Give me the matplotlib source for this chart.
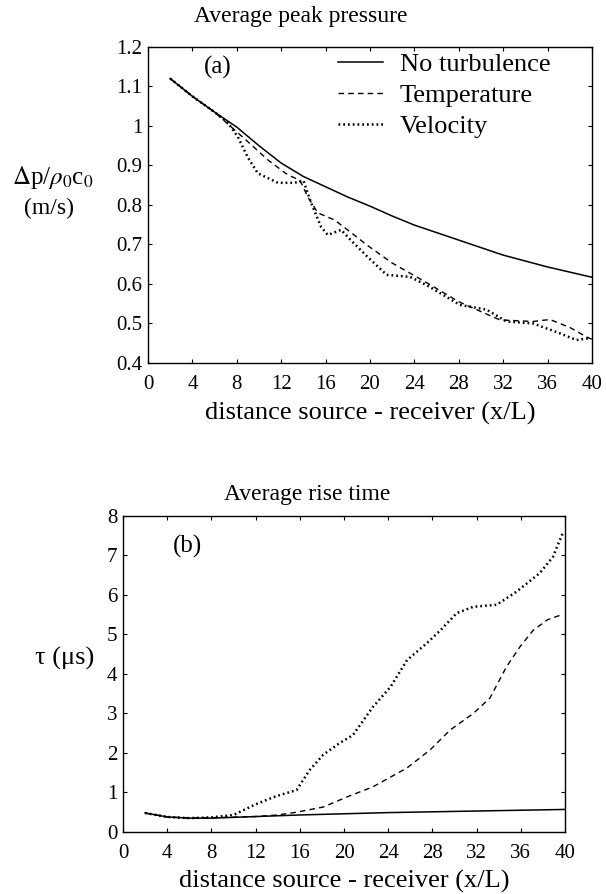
import matplotlib
matplotlib.use("Agg")
import matplotlib.pyplot as plt

plt.rcParams["font.family"] = ["Liberation Serif", "DejaVu Serif"]
plt.rcParams["mathtext.fontset"] = "stix"

# (a) average peak pressure
x_none_a = [2, 4, 6, 8, 10, 12, 14, 16, 18, 20, 22, 24, 26, 28, 30, 32, 34, 36, 38, 40]
p_none = [1.12, 1.075, 1.035, 0.997, 0.95, 0.906, 0.872, 0.846, 0.82, 0.797, 0.772,
          0.749, 0.73, 0.711, 0.692, 0.673, 0.658, 0.643, 0.63, 0.617]
x_temp_a = [2, 4, 6, 8, 9, 10.8, 12.6, 13.5, 13.8, 14.4, 15.3, 16.8, 18.3, 19.8, 22, 25,
            28, 30, 31.7, 34.7, 36.2, 38, 39.5, 40]
p_temp = [1.12, 1.075, 1.035, 0.985, 0.96, 0.914, 0.876, 0.865, 0.856, 0.82, 0.78, 0.762,
          0.73, 0.697, 0.653, 0.605, 0.555, 0.53, 0.509, 0.505, 0.51, 0.49, 0.466, 0.46]
x_vel_a = [2, 4, 6, 7.2, 8.1, 9, 9.9, 11.7, 13.2, 14, 14.7, 15.6, 16.2, 17.4, 18.3, 19.8,
           21.5, 23.6, 25.1, 28.1, 30.5, 32.3, 34.7, 37.1, 38.6, 39.8]
p_vel = [1.12, 1.075, 1.035, 1.008, 0.972, 0.92, 0.88, 0.856, 0.856, 0.862, 0.805, 0.744,
         0.724, 0.737, 0.71, 0.668, 0.623, 0.618, 0.597, 0.547, 0.535, 0.505, 0.5, 0.475,
         0.458, 0.463]

# (b) average rise time
x_none_b = [2, 4, 6, 8, 10, 12, 14, 16, 20, 24, 28, 32, 36, 40]
t_none = [0.48, 0.38, 0.35, 0.35, 0.37, 0.39, 0.41, 0.43, 0.46, 0.49, 0.51, 0.53, 0.55, 0.57]
x_temp_b = [2, 4, 6, 8, 12, 14, 15.7, 18.1, 20.3, 22.6, 25.7, 27.8, 29.6, 31.7, 33.2, 34.7,
            35.9, 37.1, 38.4, 39.6]
t_temp = [0.48, 0.38, 0.35, 0.36, 0.39, 0.43, 0.5, 0.63, 0.89, 1.14, 1.62, 2.08, 2.58, 3.0,
          3.39, 4.18, 4.68, 5.1, 5.37, 5.49]
x_vel_b = [2, 4, 6, 8, 10, 12, 13.8, 15.7, 16.9, 18.1, 19.6, 20.8, 22.6, 24.2, 25.7, 27.5,
           28.7, 30.2, 31.7, 33.8, 35.6, 37.7, 38.9, 39.8]
t_vel = [0.48, 0.38, 0.35, 0.37, 0.43, 0.7, 0.9, 1.06, 1.57, 1.95, 2.25, 2.45, 3.16, 3.67,
         4.35, 4.78, 5.1, 5.54, 5.7, 5.75, 6.08, 6.55, 6.96, 7.57]

xticks = list(range(0, 41, 4))
fs = 15

fig = plt.figure(figsize=(6.06, 8.94), dpi=100)
ax1 = fig.add_axes([0.2442, 0.5940, 0.7327, 0.3535])
ax2 = fig.add_axes([0.2030, 0.0694, 0.7294, 0.3535])

ax1.plot(x_none_a, p_none, color="black", lw=1.1, label="No turbulence")
ax1.plot(x_temp_a, p_temp, color="black", lw=1.0, ls=(0, (4, 3)), label="Temperature")
ax1.plot(x_vel_a, p_vel, color="black", lw=1.8, ls=(0, (0.7, 1.2)), label="Velocity")
ax1.set_xlim(0, 40)
ax1.set_ylim(0.4, 1.2)
ax1.set_yticks([0.4, 0.5, 0.6, 0.7, 0.8, 0.9, 1.0, 1.1, 1.2])
ax1.set_yticklabels(["0.4", "0.5", "0.6", "0.7", "0.8", "0.9", "1", "1.1", "1.2"])
ax1.text(0.158, 0.934, "(a)", transform=ax1.transAxes, fontsize=18, va="center", ha="center")
leg = ax1.legend(loc="upper left", bbox_to_anchor=(0.428, 0.981), frameon=False, fontsize=19,
                 handlelength=1.7, handletextpad=0.65, labelspacing=0.28,
                 borderpad=0.0, borderaxespad=0.0)

ax2.plot(x_none_b, t_none, color="black", lw=1.1)
ax2.plot(x_temp_b, t_temp, color="black", lw=1.0, ls=(0, (4, 3)))
ax2.plot(x_vel_b, t_vel, color="black", lw=1.8, ls=(0, (0.7, 1.2)))
ax2.set_xlim(0, 40)
ax2.set_ylim(0, 8)
ax2.set_yticks(range(0, 9))
ax2.text(0.145, 0.902, "(b)", transform=ax2.transAxes, fontsize=18, va="center", ha="center")

for ax in (ax1, ax2):
    ax.set_xticks(xticks)
    ax.tick_params(direction="in", length=3, width=0.8, labelsize=fs, pad=4,
                   top=True, right=True)
    ax.tick_params(axis="x", pad=9)
    ax.set_xlabel("distance source - receiver (x/L)", fontsize=19, labelpad=5)
    for s in ax.spines.values():
        s.set_linewidth(1.0)

fig.text(0.497, 0.981, "Average peak pressure", ha="center", va="center", fontsize=17)
fig.text(0.507, 0.447, "Average rise time", ha="center", va="center", fontsize=17)
fig.text(0.088, 0.802, r"$\Delta$p/$\rho_0$c$_0$", ha="center", va="center", fontsize=18)
fig.text(0.081, 0.767, "(m/s)", ha="center", va="center", fontsize=17)
fig.text(0.107, 0.264, "τ (μs)", ha="center", va="center", fontsize=19)

fig.savefig("out.png", dpi=100)
